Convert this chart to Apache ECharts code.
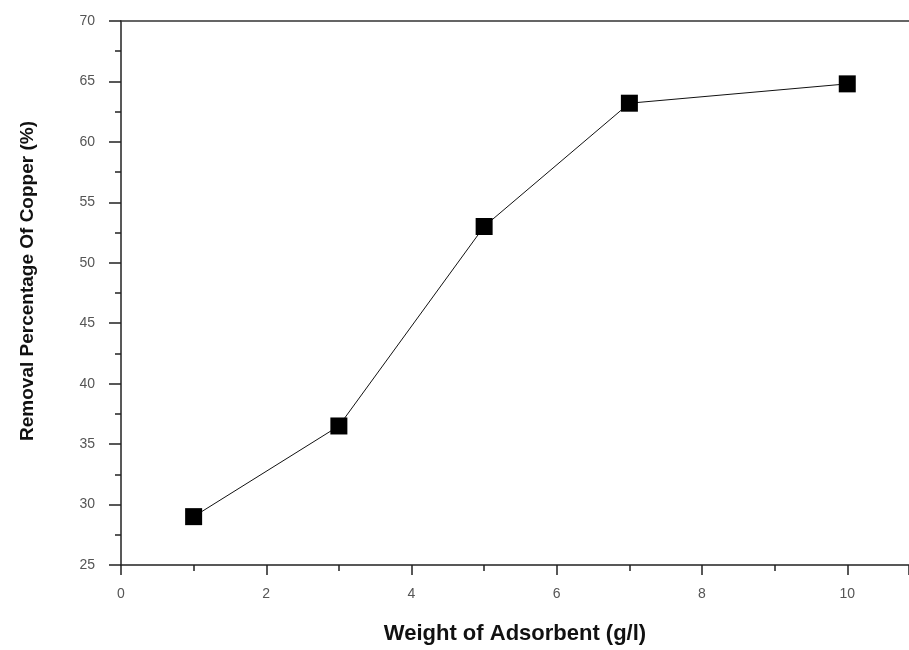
<!DOCTYPE html>
<html>
<head>
<meta charset="utf-8">
<script src="https://cdn.jsdelivr.net/npm/echarts@6/dist/echarts.min.js"></script>
<style>
  html, body { margin: 0; padding: 0; background: #fff; }
  #chart { width: 909px; height: 650px; }
</style>
</head>
<body>
<div id="chart"></div>
<script>
// adsorbent dose vs copper removal
var weights = [1, 3, 5, 7, 10];
var removal = [29.0, 36.5, 53.0, 63.2, 64.8];
var xTicks = [0, 2, 4, 6, 8, 10];

var myChart = echarts.init(document.getElementById('chart'));

var points = weights.map(function (w, i) { return [w, removal[i]]; });

// axis runs past the right edge of the picture (cut at ~10.85)
var xMax = 10.85;

var option = {
    animation: false,
    grid: {
        left: 121,
        top: 21,
        bottom: 85,
        right: 0
    },
    xAxis: [
        {
            type: 'value',
            min: 0,
            max: xMax,
            interval: 2,
            name: 'Weight of Adsorbent (g/l)',
            nameLocation: 'middle',
            nameGap: 58,
            nameTextStyle: {
                fontFamily: 'Arial, Liberation Sans',
                fontWeight: 'bold',
                fontSize: 22,
                color: '#111'
            },
            axisLine: { lineStyle: { color: '#222', width: 1.5 } },
            axisTick: { inside: false, length: 10, lineStyle: { color: '#222', width: 1.5 } },
            minorTick: { show: true, splitNumber: 2, length: 6, lineStyle: { color: '#222', width: 1.5 } },
            axisLabel: {
                margin: 22,
                showMaxLabel: false,
                fontFamily: 'Arial, Liberation Sans',
                fontSize: 14,
                color: '#555',
                formatter: function (v) {
                    return xTicks.indexOf(v) >= 0 ? String(v) : '';
                }
            },
            splitLine: { show: false }
        },
        {
            type: 'value',
            position: 'top',
            min: 0,
            max: xMax,
            axisLine: { show: true, lineStyle: { color: '#333', width: 1.5 } },
            axisTick: { show: false },
            axisLabel: { show: false },
            splitLine: { show: false }
        }
    ],
    yAxis: {
        type: 'value',
        min: 25,
        max: 70,
        interval: 5,
        name: 'Removal Percentage Of Copper (%)',
        nameLocation: 'middle',
        nameGap: 84,
        nameTextStyle: {
            fontFamily: 'Arial, Liberation Sans',
            fontWeight: 'bold',
            fontSize: 19,
            color: '#111',
            padding: [0, 0, 0, 24]
        },
        axisLine: { show: true, lineStyle: { color: '#222', width: 1.5 } },
        axisTick: { show: true, length: 12, lineStyle: { color: '#222', width: 1.5 } },
        minorTick: { show: true, splitNumber: 2, length: 6, lineStyle: { color: '#222', width: 1.5 } },
        axisLabel: {
            margin: 26,
            fontFamily: 'Arial, Liberation Sans',
            fontSize: 14,
            color: '#555'
        },
        splitLine: { show: false }
    },
    series: [
        {
            type: 'line',
            data: points,
            symbol: 'rect',
            symbolSize: 17,
            itemStyle: { color: '#000' },
            lineStyle: { color: '#111', width: 1 }
        }
    ]
};

myChart.setOption(option);
</script>
</body>
</html>
